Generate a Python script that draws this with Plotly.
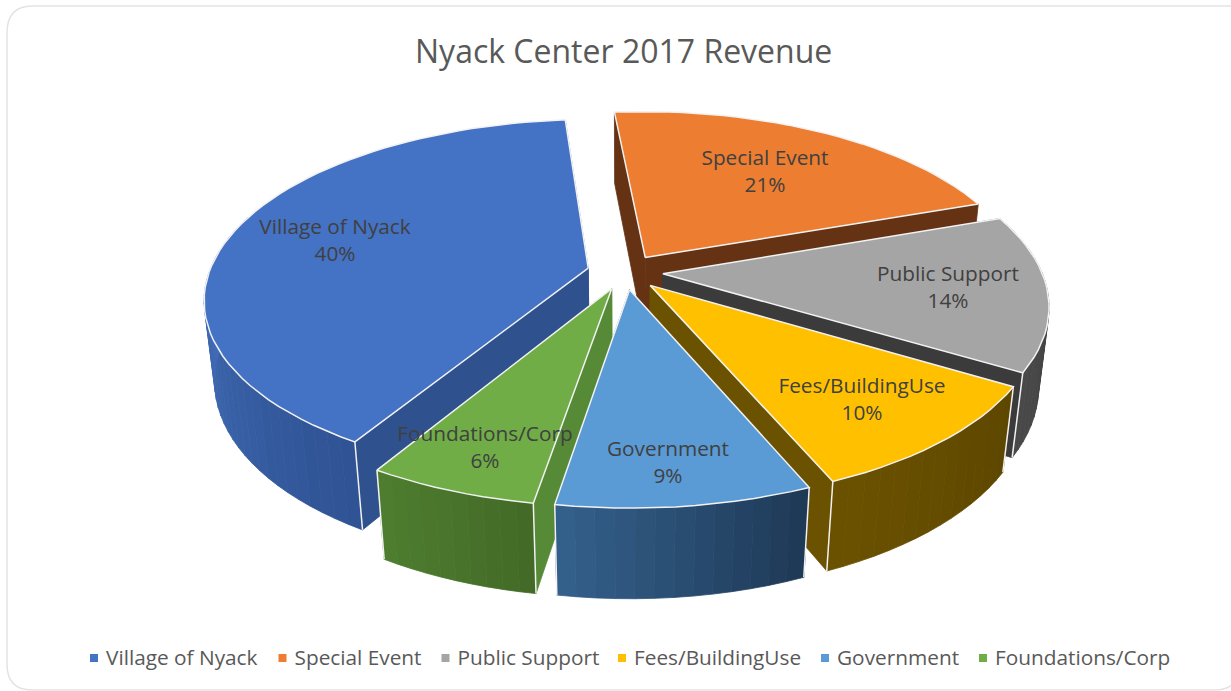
import math
import plotly.graph_objects as go

# ---- data ----
categories = ["Village of Nyack", "Special Event", "Public Support", "Fees/BuildingUse", "Government", "Foundations/Corp"]
percent = [40, 21, 14, 10, 9, 6]

# ---- style ----
top_col = ["#4472C4", "#ED7D31", "#A5A5A5", "#FFC000", "#5B9BD5", "#70AD47"]
wall_start = ["#2F5394", "#5A2E0E", "#3A3A3A", "#5E4700", "#1F3A57", "#436B27"]
wall_end = ["#4470BC", "#7A3F12", "#4A4A4A", "#6B5200", "#35628F", "#4F7F30"]
cut_col = ["#2F528F", "#653314", "#3B3B3B", "#6B5200", "#1F3A57", "#568A36"]
legend_x = [94, 282.5, 445.5, 622, 825, 983]
label_xy = [(335, 242), (765, 173), (948, 289), (862, 401), (668, 464), (485, 449)]

# ---- projection of the tilted disc onto the page ----
CX, CY, R, H, P, Q, Z, EXPLODE = 625, 272, 379, 175, 0.1685, 0.025, 82, 0.1
FIRST_ANGLE = math.radians(211)
EDGE = "#F2F2F2"


def project(u, v, z=0.0):
    s = 1 / (1 + P * v + Q * z)
    return CX + R * u * s, CY + (-H * v + Z * z) * s


def hex_rgb(c):
    return tuple(int(c[i:i + 2], 16) for i in (1, 3, 5))


def mix(a, b, t):
    ra, rb = hex_rgb(a), hex_rgb(b)
    return "rgb(%d,%d,%d)" % tuple(round(x + (y - x) * t) for x, y in zip(ra, rb))


fig = go.Figure()


def poly(pts, color, line=None, width=0):
    xs = [p[0] for p in pts] + [pts[0][0]]
    ys = [p[1] for p in pts] + [pts[0][1]]
    fig.add_trace(go.Scatter(x=xs, y=ys, mode="lines", fill="toself", fillcolor=color,
                             line=dict(color=line or color, width=width if line else 0.8),
                             hoverinfo="skip", showlegend=False))


def seg(a, b, color=EDGE, width=1.5):
    fig.add_trace(go.Scatter(x=[a[0], b[0]], y=[a[1], b[1]], mode="lines",
                             line=dict(color=color, width=width), hoverinfo="skip", showlegend=False))


total = sum(percent)
angles = []
a = FIRST_ANGLE
for p in percent:
    angles.append((a, a + p / total * 2 * math.pi))
    a += p / total * 2 * math.pi
angles = [(x - 2 * math.pi, y - 2 * math.pi) if x >= 2 * math.pi else (x, y) for x, y in angles]


def slice_draw(i):
    a0, a1 = angles[i]
    mid = (a0 + a1) / 2
    ou, ov = EXPLODE * math.sin(mid), EXPLODE * math.cos(mid)
    n = max(10, int((a1 - a0) * 24))
    th = [a0 + (a1 - a0) * k / n for k in range(n + 1)]
    rim = [(ou + math.sin(t), ov + math.cos(t)) for t in th]
    for t in (a0, a1):
        e = (ou + math.sin(t), ov + math.cos(t))
        poly([project(ou, ov), project(*e), project(*e, 1), project(ou, ov, 1)], cut_col[i])
    front = [k for k in range(n) if math.cos(th[k]) < 0.3 or math.cos(th[k + 1]) < 0.3]
    for k in front:
        t = (th[k] - a0) / max(1e-6, (a1 - a0))
        if i == 0:
            t = min(1.0, t * 2.2)
        poly([project(*rim[k]), project(*rim[k + 1]), project(*rim[k + 1], 1), project(*rim[k], 1)],
             mix(wall_start[i], wall_end[i], t))
    if front:
        if math.cos(th[0]) < 0:
            seg(project(*rim[0]), project(*rim[0], 1))
        if math.cos(th[-1]) < 0:
            seg(project(*rim[-1]), project(*rim[-1], 1))
    pts = [project(ou, ov)] + [project(*q) for q in rim]
    poly(pts, top_col[i], EDGE, 1.5)


for i in [0, 1, 2, 3, 5, 4]:
    slice_draw(i)

# data labels
fig.add_trace(go.Scatter(
    x=[q[0] for q in label_xy], y=[q[1] for q in label_xy], mode="text",
    text=[f"{c}<br>{v}%" for c, v in zip(categories, percent)],
    textfont=dict(family="Open Sans", size=20.8, color="#404040"),
    textposition="middle center", hoverinfo="skip", showlegend=False))

# legend
fig.add_trace(go.Scatter(
    x=legend_x, y=[658] * len(legend_x), mode="markers",
    marker=dict(symbol="square", size=8, color=top_col),
    hoverinfo="skip", showlegend=False))
fig.add_trace(go.Scatter(
    x=[v + 12 for v in legend_x], y=[660] * len(legend_x), mode="text",
    text=categories, textposition="middle right",
    textfont=dict(family="Open Sans", size=20.8, color="#595959"),
    hoverinfo="skip", showlegend=False))

fig.update_layout(
    width=1231, height=691, margin=dict(l=0, r=0, t=0, b=0),
    paper_bgcolor="white", plot_bgcolor="white", showlegend=False,
    xaxis=dict(range=[0, 1231], visible=False, fixedrange=True),
    yaxis=dict(range=[691, 0], visible=False, fixedrange=True),
    annotations=[dict(text="Nyack Center 2017 Revenue", x=623, y=50, xref="x", yref="y",
                      showarrow=False, font=dict(family="Open Sans", size=32, color="#595959"))],
    shapes=[dict(type="path", xref="x", yref="y", layer="below",
                 path="M 1240 6 L 32 6 Q 7 6 7 33 L 7 664 Q 7 690 32 690 L 1215 690 Q 1232 690 1240 676",
                 line=dict(color="#E3E3E3", width=1.5))],
)
fig.write_html("out.html", config=dict(displayModeBar=False),
               post_script="document.body.style.margin='0';document.body.style.overflow='hidden';")
